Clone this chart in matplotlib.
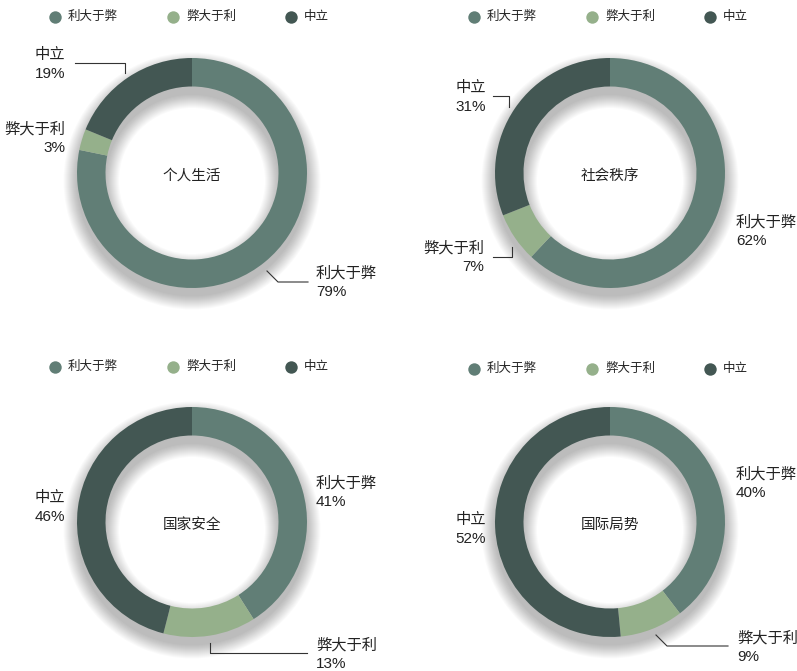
import matplotlib.pyplot as plt
from matplotlib.patches import Wedge

plt.rcParams['font.family'] = ['Liberation Sans', 'Noto Sans CJK SC', 'DejaVu Sans']

# survey answers per topic, in the order of the categories below
categories = ['利大于弊', '弊大于利', '中立']
colors = ['#617e76', '#95b08b', '#435753']
topics = ['个人生活', '社会秩序', '国家安全', '国际局势']
life = [79, 3, 19]
order = [62, 7, 31]
security = [41, 13, 46]
world = [40, 9, 52]

W, H = 797, 671
R, RING = 115, 28.5
TXT = '#222222'

fig = plt.figure(figsize=(W / 100, H / 100), dpi=100)
ax = fig.add_axes([0, 0, 1, 1])


def Y(y):
    # work in pixel rows from the top
    return H - y


def donut(cx, cy, values, title):
    # soft drop shadow under the ring, pushed down a little
    for i in range(14):
        e = 0.5 + i * 1.0
        ax.add_patch(Wedge((cx, Y(cy) - 8), R + e, 0, 360, width=RING + 2 * e,
                           facecolor='black', alpha=0.018, lw=0, zorder=1))
    ax.pie(values, colors=colors, startangle=90, counterclock=False,
           radius=R, center=(cx, Y(cy)),
           wedgeprops=dict(width=RING, linewidth=0, zorder=2))
    ax.text(cx, Y(cy + 3), title, ha='center', va='center', fontsize=10.5, color=TXT, zorder=3)


def legend(x0, y):
    for k, (name, c) in enumerate(zip(categories, colors)):
        x = x0 + k * 118
        ax.scatter([x], [Y(y)], s=80, color=c, lw=0, zorder=3)
        ax.text(x + 13, Y(y), name, ha='left', va='center', fontsize=9, color=TXT)


def label(x, y, idx, values, ha):
    ax.text(x, Y(y), categories[idx], ha=ha, va='center', fontsize=11, color=TXT)
    ax.text(x, Y(y + 19), f'{values[idx]}%', ha=ha, va='center', fontsize=11, color=TXT)


def leader(xs, ys):
    ax.plot(xs, [Y(v) for v in ys], color='#333333', lw=0.8, zorder=3)


# 个人生活
legend(55, 17)
donut(192, 173, life, topics[0])
label(65, 55, 2, life, 'right')
leader([75, 125, 125], [63, 63, 73])
label(65, 129, 1, life, 'right')
label(316, 273, 0, life, 'left')
leader([267, 278, 308], [271, 282, 282])

# 社会秩序
legend(474, 17)
donut(610, 173, order, topics[1])
label(486, 88, 2, order, 'right')
leader([493, 509, 509], [96, 96, 107])
label(736, 222, 0, order, 'left')
label(484, 248, 1, order, 'right')
leader([493, 512, 512], [257, 257, 247])

# 国家安全
legend(55, 367)
donut(192, 522, security, topics[2])
label(316, 483, 0, security, 'left')
label(65, 498, 2, security, 'right')
label(316, 645, 1, security, 'left')
leader([210, 210, 307], [643, 653, 653])

# 国际局势
legend(474, 369)
donut(610, 522, world, topics[3])
label(736, 474, 0, world, 'left')
label(486, 520, 2, world, 'right')
label(737, 638, 1, world, 'left')
leader([656, 667, 728], [635, 646, 646])

ax.set_xlim(0, W)
ax.set_ylim(0, H)
ax.set_aspect('auto')
ax.axis('off')

fig.savefig('out.png', dpi=100, facecolor='white')
